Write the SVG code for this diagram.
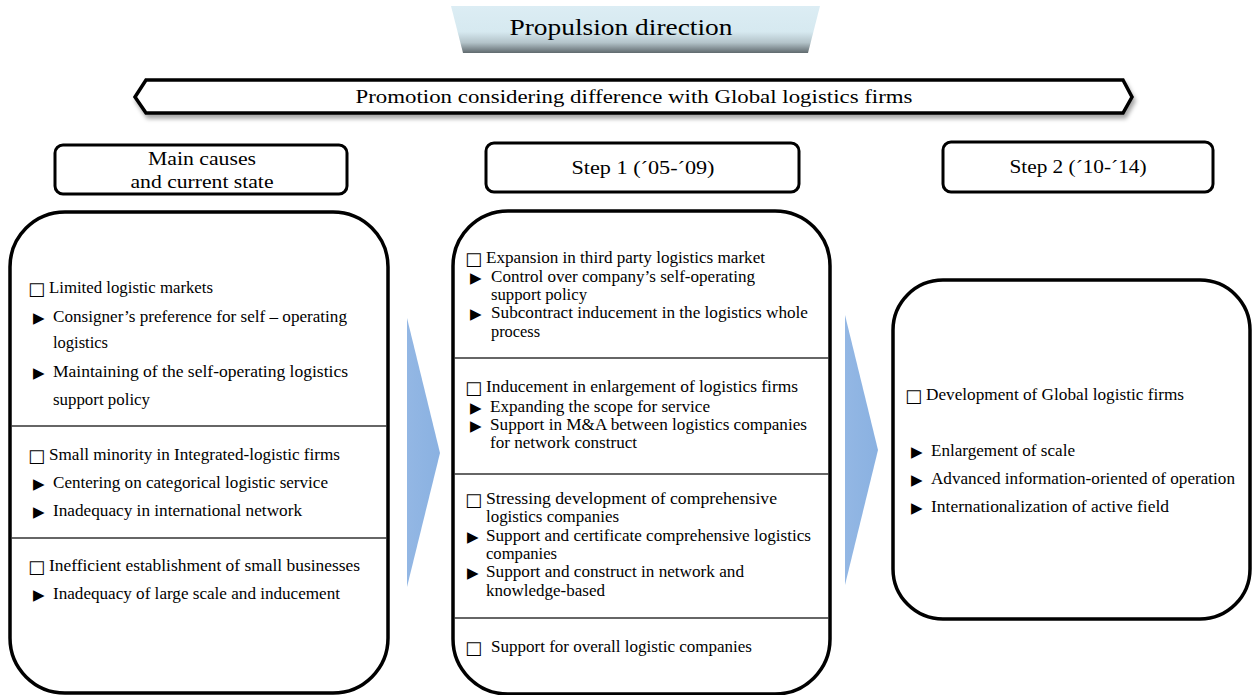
<svg xmlns="http://www.w3.org/2000/svg" width="1252" height="695" viewBox="0 0 1252 695">
<style>
.t{font-family:"Liberation Serif","Times New Roman",serif;font-size:16px;fill:#000}
.h{font-family:"Liberation Serif","Times New Roman",serif;font-size:19px;fill:#000}
.sq{font-family:"DejaVu Sans",sans-serif;font-size:18px;fill:#000}
.bu{font-family:"DejaVu Sans",sans-serif;font-size:15px;fill:#000}
.big{fill:#fff;stroke:#000;stroke-width:3.5}
.hdr{fill:#fff;stroke:#000;stroke-width:3}
.div{stroke:#333;stroke-width:1.6}
.chev{fill:url(#chevg)}
</style>
<defs>
<linearGradient id="propg" x1="0" y1="0" x2="0" y2="1">
<stop offset="0" stop-color="#dcedf4"/>
<stop offset="0.55" stop-color="#d6e9f0"/>
<stop offset="0.78" stop-color="#b3c3c9"/>
<stop offset="1" stop-color="#606a6e"/>
</linearGradient>
<linearGradient id="chevg" x1="0" y1="0" x2="1" y2="0">
<stop offset="0" stop-color="#93b7e4"/>
<stop offset="1" stop-color="#8ab1e1"/>
</linearGradient>
<filter id="sh" x="-5%" y="-50%" width="110%" height="200%">
<feDropShadow dx="2" dy="4" stdDeviation="2" flood-color="#000" flood-opacity="0.35"/>
</filter>
</defs>

<g id="propulsion">
<polygon points="451,6 820,6 808,53 463,53" fill="url(#propg)"/>
<text class="h" x="621" y="35" text-anchor="middle" textLength="223" lengthAdjust="spacingAndGlyphs" style="font-size:24px">Propulsion direction</text>
</g>

<g id="banner">
<polygon points="135,97 146,80 1123,80 1132,97 1123,113 146,113" fill="#fff" stroke="#000" stroke-width="3.5" stroke-linejoin="miter" filter="url(#sh)"/>
<text class="t" x="634" y="103" text-anchor="middle" textLength="557" lengthAdjust="spacingAndGlyphs" style="font-size:18px">Promotion considering difference with Global logistics firms</text>
</g>

<g id="hdr-main">
<rect class="hdr" x="55" y="145" width="292" height="49" rx="8"/>
<text class="h" x="202" y="165" text-anchor="middle" textLength="108" lengthAdjust="spacingAndGlyphs">Main causes</text>
<text class="h" x="202" y="188" text-anchor="middle" textLength="143" lengthAdjust="spacingAndGlyphs">and current state</text>
</g>

<g id="hdr-step1">
<rect class="hdr" x="486" y="143" width="313" height="49" rx="8"/>
<text class="h" x="643" y="174" text-anchor="middle" textLength="143" lengthAdjust="spacingAndGlyphs">Step 1 (´05-´09)</text>
</g>

<g id="hdr-step2">
<rect class="hdr" x="943" y="142" width="270" height="50" rx="8"/>
<text class="h" x="1078" y="173" text-anchor="middle" textLength="137" lengthAdjust="spacingAndGlyphs">Step 2 (´10-´14)</text>
</g>

<g id="connectors">
<polygon class="chev" points="407,318 440,453 407,587"/>
<polygon class="chev" points="845,315 878,450 845,585"/>
</g>

<g id="box-main">
<rect class="big" x="10" y="212" width="378" height="481" rx="55"/>
<line class="div" x1="11" y1="426" x2="387" y2="426"/>
<line class="div" x1="11" y1="538" x2="387" y2="538"/>
<text class="sq" x="28" y="295">□</text>
<text class="t" x="49" y="293" textLength="164" lengthAdjust="spacingAndGlyphs">Limited logistic markets</text>
<text class="bu" x="33" y="323">▶</text>
<text class="t" x="53" y="322" textLength="294" lengthAdjust="spacingAndGlyphs">Consigner’s preference for self – operating</text>
<text class="t" x="53" y="348" textLength="55" lengthAdjust="spacingAndGlyphs">logistics</text>
<text class="bu" x="33" y="378">▶</text>
<text class="t" x="53" y="377" textLength="295" lengthAdjust="spacingAndGlyphs">Maintaining  of the self-operating logistics</text>
<text class="t" x="53" y="405" textLength="97" lengthAdjust="spacingAndGlyphs">support policy</text>
<text class="sq" x="28" y="462">□</text>
<text class="t" x="49" y="460" textLength="291" lengthAdjust="spacingAndGlyphs">Small minority in Integrated-logistic firms</text>
<text class="bu" x="33" y="489">▶</text>
<text class="t" x="53" y="488" textLength="275" lengthAdjust="spacingAndGlyphs">Centering on categorical logistic service</text>
<text class="bu" x="33" y="517">▶</text>
<text class="t" x="53" y="516" textLength="249" lengthAdjust="spacingAndGlyphs">Inadequacy in international network</text>
<text class="sq" x="28" y="573">□</text>
<text class="t" x="49" y="571" textLength="311" lengthAdjust="spacingAndGlyphs">Inefficient establishment of small businesses</text>
<text class="bu" x="33" y="600">▶</text>
<text class="t" x="53" y="599" textLength="287" lengthAdjust="spacingAndGlyphs">Inadequacy of large scale and inducement</text>
</g>

<g id="box-step1">
<rect class="big" x="453" y="211" width="377" height="483" rx="55"/>
<line class="div" x1="454" y1="358" x2="829" y2="358"/>
<line class="div" x1="454" y1="474" x2="829" y2="474"/>
<line class="div" x1="454" y1="618" x2="829" y2="618"/>
<text class="sq" x="465" y="265">□</text>
<text class="t" x="486" y="263" textLength="279" lengthAdjust="spacingAndGlyphs">Expansion in third party logistics market</text>
<text class="bu" x="470" y="283">▶</text>
<text class="t" x="491" y="282" textLength="264" lengthAdjust="spacingAndGlyphs">Control over company’s self-operating</text>
<text class="t" x="491" y="300" textLength="96" lengthAdjust="spacingAndGlyphs">support policy</text>
<text class="bu" x="470" y="319">▶</text>
<text class="t" x="491" y="318" textLength="317" lengthAdjust="spacingAndGlyphs">Subcontract inducement in the logistics whole</text>
<text class="t" x="491" y="337" textLength="49" lengthAdjust="spacingAndGlyphs">process</text>

<text class="sq" x="465" y="394">□</text>
<text class="t" x="486" y="392" textLength="312" lengthAdjust="spacingAndGlyphs">Inducement in enlargement of logistics firms</text>
<text class="bu" x="470" y="413">▶</text>
<text class="t" x="490" y="412" textLength="220" lengthAdjust="spacingAndGlyphs">Expanding the scope for service</text>
<text class="bu" x="470" y="431">▶</text>
<text class="t" x="490" y="430" textLength="317" lengthAdjust="spacingAndGlyphs">Support in M&amp;A between logistics companies</text>
<text class="t" x="490" y="448" textLength="147" lengthAdjust="spacingAndGlyphs">for network construct</text>

<text class="sq" x="465" y="506">□</text>
<text class="t" x="486" y="504" textLength="291" lengthAdjust="spacingAndGlyphs">Stressing development of comprehensive</text>
<text class="t" x="486" y="522" textLength="133" lengthAdjust="spacingAndGlyphs">logistics companies</text>
<text class="bu" x="467" y="542">▶</text>
<text class="t" x="486" y="541" textLength="325" lengthAdjust="spacingAndGlyphs">Support and certificate comprehensive logistics</text>
<text class="t" x="486" y="559" textLength="71" lengthAdjust="spacingAndGlyphs">companies</text>
<text class="bu" x="467" y="578">▶</text>
<text class="t" x="486" y="577" textLength="258" lengthAdjust="spacingAndGlyphs">Support and construct in network and</text>
<text class="t" x="486" y="596" textLength="119" lengthAdjust="spacingAndGlyphs">knowledge-based</text>

<text class="sq" x="465" y="654">□</text>
<text class="t" x="491" y="652" textLength="261" lengthAdjust="spacingAndGlyphs">Support for overall logistic companies</text>
</g>

<g id="box-step2">
<rect class="big" x="893" y="280" width="357" height="339" rx="50"/>
<text class="sq" x="905" y="402">□</text>
<text class="t" x="926" y="400" textLength="258" lengthAdjust="spacingAndGlyphs">Development of Global logistic firms</text>
<text class="bu" x="911" y="457">▶</text>
<text class="t" x="931" y="456" textLength="144" lengthAdjust="spacingAndGlyphs">Enlargement of scale</text>
<text class="bu" x="911" y="485">▶</text>
<text class="t" x="931" y="484" textLength="304" lengthAdjust="spacingAndGlyphs">Advanced information-oriented of operation</text>
<text class="bu" x="911" y="513">▶</text>
<text class="t" x="931" y="512" textLength="238" lengthAdjust="spacingAndGlyphs">Internationalization of active field</text>
</g>
</svg>
